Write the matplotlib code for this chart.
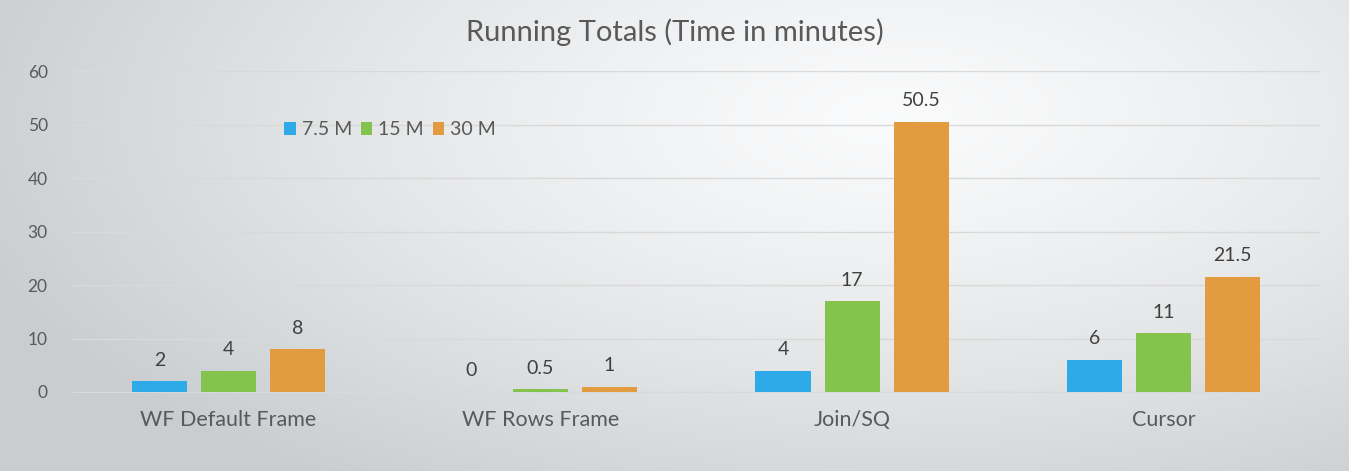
import numpy as np
import matplotlib
matplotlib.use("Agg")
import matplotlib.pyplot as plt

plt.rcParams['font.family'] = ['Lato', 'DejaVu Sans']

categories = ["WF Default Frame", "WF Rows Frame", "Join/SQ", "Cursor"]
series_names = ["7.5 M", "15 M", "30 M"]
s_75 = [2, 0, 4, 6]
s_15 = [4, 0.5, 17, 11]
s_30 = [8, 1, 50.5, 21.5]
series = [s_75, s_15, s_30]
colors = ["#2EAAE9", "#84C34D", "#E29C3F"]
yticks = [0, 10, 20, 30, 40, 50, 60]

W, H = 1349, 471
fig = plt.figure(figsize=(W/100, H/100), dpi=100)

# gradient background
bg = fig.add_axes([0, 0, 1, 1], zorder=-10)
yy, xx = np.mgrid[0:H, 0:W]
cx, cy = W * 0.66, H * 0.25
d = np.sqrt(((xx - cx) / (W * 0.72))**2 + ((yy - cy) / (H * 0.95))**2)
d = np.clip(d, 0, 1) ** 1.3
c0 = np.array([0.98, 0.982, 0.985])
c1 = np.array([0.79, 0.805, 0.815])
img = c0[None, None, :] * (1 - d[..., None]) + c1[None, None, :] * d[..., None]
bg.imshow(img, aspect='auto', extent=[0, 1, 0, 1])
bg.axis('off')

ax_left, ax_right = 72.7, 1319.6
ax = fig.add_axes([ax_left/W, 1 - 392/H, (ax_right-ax_left)/W, (392-71)/H])
ax.set_facecolor('none')

x = np.arange(len(categories))
width = 0.1765
step = 0.2214
for i, (vals, col, name) in enumerate(zip(series, colors, series_names)):
    pos = x + (i - 1) * step
    ax.bar(pos, vals, width=width, color=col, label=name, zorder=3)
    for p, v in zip(pos, vals):
        ax.annotate(f"{v:g}", (p, v), xytext=(0, 9), textcoords='offset points',
                    ha='center', va='bottom', fontsize=14, color='#404040')

ax.set_xlim(-0.5, len(categories) - 0.5)
ax.set_ylim(0, 60)
ax.set_yticks(yticks)
ax.set_xticks(x)
ax.set_xticklabels(categories, fontsize=15.5, color='#595959')
ax.tick_params(axis='y', labelsize=12.5, colors='#595959', length=0, pad=18)
ax.tick_params(axis='x', length=0, pad=13)
ax.grid(axis='y', color='#D9D9D9', linewidth=1, zorder=0)
for s in ['top', 'right', 'left']:
    ax.spines[s].set_visible(False)
ax.spines['bottom'].set_color('#D9D9D9')

fig.text(0.5, 1 - 32/H, "Running Totals (Time in minutes)", ha='center', va='center',
         fontsize=21, color='#595959')

leg = ax.legend(loc='center', ncol=3, frameon=False, fontsize=14,
                handlelength=0.6, handleheight=0.6,
                columnspacing=0.45, handletextpad=0.3)
leg.set_bbox_to_anchor((390/W, 1 - 130/H), transform=fig.transFigure)
for t in leg.get_texts():
    t.set_color('#595959')

fig.savefig("out.png", dpi=100)
